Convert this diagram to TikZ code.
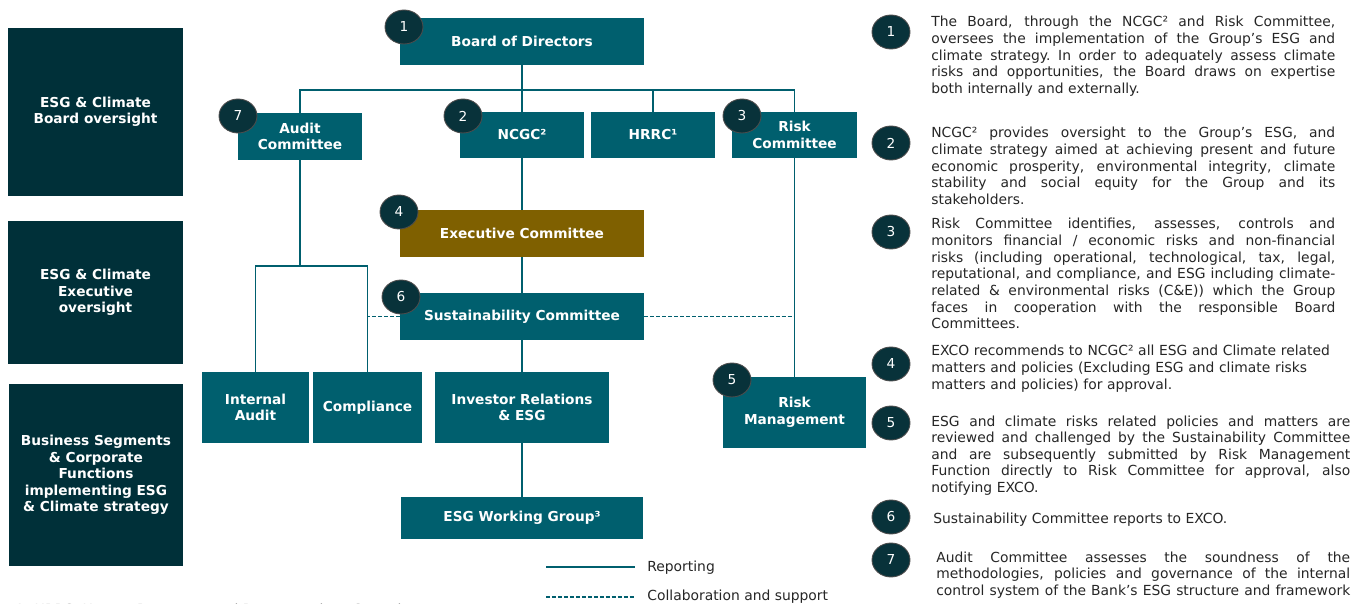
\documentclass[tikz,border=0pt]{standalone}
\usepackage{fontspec}
\setmainfont{DejaVu Sans}
\usetikzlibrary{shapes.geometric}

\definecolor{esgteal}{RGB}{0,95,110}
\definecolor{esgdark}{RGB}{0,48,57}
\definecolor{esgbrown}{RGB}{127,96,0}
\definecolor{badgefill}{RGB}{8,50,58}
\definecolor{bodytext}{RGB}{38,38,38}

% one line of a justified block, spread to the given width
\newcommand{\fullline}[2][8.08cm]{\hbox to #1{\spaceskip=0.32em plus 1em minus 0.05em\xspaceskip=\spaceskip #2}}

\tikzset{
  orgbox/.style={fill=esgteal, text=white, align=center, inner sep=1pt,
    font=\fontsize{7.8}{9.4}\selectfont\bfseries},
  levelbox/.style={fill=esgdark, text=white, align=center, inner sep=1pt,
    minimum width=3.5cm, font=\fontsize{7.8}{9.4}\selectfont\bfseries},
  badge/.style={ellipse, fill=badgefill, draw=black!70, line width=0.5pt,
    minimum width=0.76cm, minimum height=0.68cm, inner sep=0pt, text=white,
    font=\fontsize{7.8}{9.4}\selectfont},
  note/.style={anchor=base west, inner sep=0pt, text=bodytext,
    font=\fontsize{7.9}{9.45}\selectfont},
  reportline/.style={draw=esgteal, line width=0.9pt},
  supportline/.style={draw=esgteal, line width=0.9pt, dash pattern=on 2.2pt off 1.2pt},
}

\begin{document}
\begin{tikzpicture}[x=0.02cm, y=-0.02cm]
  \useasboundingbox (0,0) rectangle (1372,604);

  % oversight levels on the left
  \node[levelbox, minimum height=3.36cm] (boardlevel) at (95.5,112) {ESG \& Climate\\Board oversight};
  \node[levelbox, minimum height=2.86cm] (execlevel) at (95.5,292.5) {ESG \& Climate\\Executive\\oversight};
  \node[levelbox, minimum height=3.64cm] (bizlevel) at (96,475) {Business Segments\\\& Corporate\\Functions\\implementing ESG\\\& Climate strategy};

  % governance bodies
  \node[orgbox, minimum width=4.88cm, minimum height=0.94cm] (board) at (522,41.5) {Board of Directors};
  \node[orgbox, minimum width=2.5cm, minimum height=0.94cm] (audit) at (300,136.5) {Audit\\Committee};
  \node[orgbox, minimum width=2.5cm, minimum height=0.92cm] (ncgc) at (522,135) {NCGC²};
  \node[orgbox, minimum width=2.48cm, minimum height=0.92cm] (hrrc) at (653,135) {HRRC¹};
  \node[orgbox, minimum width=2.5cm, minimum height=0.92cm] (riskcom) at (794.5,135) {Risk\\Committee};
  \node[orgbox, fill=esgbrown, minimum width=4.88cm, minimum height=0.94cm] (exco) at (522,233.5) {Executive Committee};
  \node[orgbox, minimum width=4.88cm, minimum height=0.94cm] (sustain) at (522,316.5) {Sustainability Committee};
  \node[orgbox, minimum width=2.14cm, minimum height=1.42cm] (intaudit) at (255.5,407.5) {Internal\\Audit};
  \node[orgbox, minimum width=2.18cm, minimum height=1.42cm] (compliance) at (367.5,407.5) {Compliance};
  \node[orgbox, minimum width=3.48cm, minimum height=1.42cm] (investor) at (522,407.5) {Investor Relations\\\& ESG};
  \node[orgbox, minimum width=2.88cm, minimum height=1.42cm] (riskmgmt) at (794.5,412.5) {Risk\\Management};
  \node[orgbox, minimum width=4.84cm, minimum height=0.84cm] (workgroup) at (522,518) {ESG Working Group³};

  % reporting lines
  \coordinate (bus) at (522,90);
  \coordinate (split) at (300,266);
  \draw[reportline] (board) -- (bus);
  \draw[reportline] (audit.north) |- (bus) -| (riskcom.north);
  \draw[reportline] (bus) -- (ncgc.north);
  \draw[reportline] (hrrc.north) -- (hrrc.north |- bus);
  \draw[reportline] (ncgc) -- (exco);
  \draw[reportline] (exco) -- (sustain);
  \draw[reportline] (sustain) -- (investor);
  \draw[reportline] (investor) -- (workgroup);
  \draw[reportline] (audit) -- (split);
  \draw[reportline] (intaudit.north) |- (split) -| (compliance.north);
  \draw[reportline] (riskcom) -- (riskmgmt);

  % collaboration
  \draw[supportline] (sustain.west) -- (sustain.west -| compliance.north);
  \draw[supportline] (sustain.east) -- (sustain.east -| riskmgmt.north);

  % numbered badges
  \node[badge] (n1) at (404,27) {1};
  \node[badge] (n7) at (238,116) {7};
  \node[badge] (n2) at (463,116) {2};
  \node[badge] (n3) at (742,116) {3};
  \node[badge] (n4) at (399,212) {4};
  \node[badge] (n6) at (401,297) {6};
  \node[badge] (n5) at (732,380) {5};

  % legend
  \coordinate (rep0) at (546,567);
  \coordinate (rep1) at (635,567);
  \coordinate (sup0) at (546,597);
  \coordinate (sup1) at (635,597);
  \draw[reportline] (rep0) -- (rep1);
  \draw[supportline] (sup0) -- (sup1);
  \node[note] (legrep) at (647,571) {Reporting};
  \node[note] (legsup) at (647,600.5) {Collaboration and support};

  % footnote
  \node[note, text=black!55] (foot) at (15,614) {1: HRRC: Human Resources and Remunerations Committee};

  % explanations on the right
  \node[badge] (m1) at (891,32) {1};
  \node[badge] (m2) at (891,143) {2};
  \node[badge] (m3) at (891,232) {3};
  \node[badge] (m4) at (891,364) {4};
  \node[badge] (m5) at (891,423) {5};
  \node[badge] (m6) at (891,517) {6};
  \node[badge] (m7) at (891,560) {7};

  \node[note, text width=8.08cm] (t1) at (931,27) {%
    \fullline{The Board, through the NCGC² and Risk Committee,}
    \fullline{oversees the implementation of the Group’s ESG and}
    \fullline{climate strategy. In order to adequately assess climate}
    \fullline{risks and opportunities, the Board draws on expertise}
    both internally and externally.};
  \node[note, text width=8.08cm] (t2) at (931,138) {%
    \fullline{NCGC² provides oversight to the Group’s ESG, and}
    \fullline{climate strategy aimed at achieving present and future}
    \fullline{economic prosperity, environmental integrity, climate}
    \fullline{stability and social equity for the Group and its}
    stakeholders.};
  \node[note, text width=8.08cm] (t3) at (931,229) {%
    \fullline{Risk Committee identifies, assesses, controls and}
    \fullline{monitors financial / economic risks and non-financial}
    \fullline{risks (including operational, technological, tax, legal,}
    \fullline{reputational, and compliance, and ESG including climate-}
    \fullline{related \& environmental risks (C\&E)) which the Group}
    \fullline{faces in cooperation with the responsible Board}
    Committees.};
  \node[note, text width=8.08cm] (t4) at (931,356) {%
    EXCO recommends to NCGC² all ESG and Climate related\\
    matters and policies (Excluding ESG and climate risks\\
    matters and policies) for approval.};
  \node[note, text width=8.38cm] (t5) at (931,426) {%
    \fullline[8.38cm]{ESG and climate risks related policies and matters are}
    \fullline[8.38cm]{reviewed and challenged by the Sustainability Committee}
    \fullline[8.38cm]{and are subsequently submitted by Risk Management}
    \fullline[8.38cm]{Function directly to Risk Committee for approval, also}
    notifying EXCO.};
  \node[note] (t6) at (933,523) {Sustainability Committee reports to EXCO.};
  \node[note, text width=8.28cm] (t7) at (936,562) {%
    \fullline[8.28cm]{Audit Committee assesses the soundness of the}
    \fullline[8.28cm]{methodologies, policies and governance of the internal}
    \fullline[8.28cm]{control system of the Bank’s ESG structure and framework}};
\end{tikzpicture}
\end{document}
